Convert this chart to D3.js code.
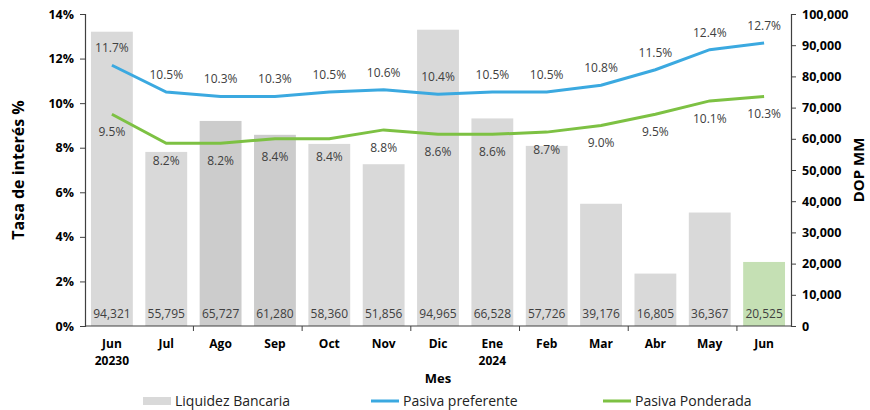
<!DOCTYPE html>
<html>
<head>
<meta charset="utf-8">
<script src="https://cdn.jsdelivr.net/npm/d3@7"></script>
<style>
    body { margin: 0; background: #fff; }
    text { font-family: "Open Sans", "DejaVu Sans", sans-serif; }
</style>
</head>
<body>
<div id="canvas"></div>
<script>
"use strict";

let svgWidth = 870;
let svgHeight = 410;

let margin = { top: 14, right: 79, bottom: 84, left: 85 };

/* ---------------- DATA ---------------- */

let months = ["Jun 2023", "Jul", "Ago", "Sep", "Oct", "Nov", "Dic", "Ene 2024", "Feb", "Mar", "Abr", "May", "Jun"];
let monthLabels = [["Jun", "20230"], ["Jul"], ["Ago"], ["Sep"], ["Oct"], ["Nov"], ["Dic"], ["Ene", "2024"], ["Feb"], ["Mar"], ["Abr"], ["May"], ["Jun"]];

let liquidez = [94321, 55795, 65727, 61280, 58360, 51856, 94965, 66528, 57726, 39176, 16805, 36367, 20525];
let pasivaPreferente = [11.7, 10.5, 10.3, 10.3, 10.5, 10.6, 10.4, 10.5, 10.5, 10.8, 11.5, 12.4, 12.7];
let pasivaPonderada = [9.5, 8.2, 8.2, 8.4, 8.4, 8.8, 8.6, 8.6, 8.7, 9.0, 9.5, 10.1, 10.3];

let leftTicks = [0, 2, 4, 6, 8, 10, 12, 14];
let rightTicks = [0, 10000, 20000, 30000, 40000, 50000, 60000, 70000, 80000, 90000, 100000];

/* ---------------- STYLES ---------------- */

let barColors = ["#d9d9d9", "#d9d9d9", "#cccccc", "#cccccc", "#d9d9d9", "#d9d9d9", "#d9d9d9",
                 "#d9d9d9", "#d9d9d9", "#d9d9d9", "#d9d9d9", "#d9d9d9", "#c5e0b4"];
let blue = "#3ba9e0";
let green = "#7dc143";
let axisColor = "#404040";
let labelColor = "#404040";

let svg = d3.select("#canvas")
    .append("svg")
    .attr("width", svgWidth)
    .attr("height", svgHeight);

/* ---------------- SCALES ---------------- */

let xScale = d3.scaleBand()
    .domain(months)
    .range([margin.left, svgWidth - margin.right])
    .paddingInner(0.23)
    .paddingOuter(0.11);

let yLeft = d3.scaleLinear()
    .domain([0, 14])
    .range([svgHeight - margin.bottom, margin.top]);

let yRight = d3.scaleLinear()
    .domain([0, 100000])
    .range([svgHeight - margin.bottom, margin.top]);

let bw = xScale.bandwidth();
let cx = function (i) { return xScale(months[i]) + bw / 2; };

/* ---------------- BARS ---------------- */

svg.append("g")
    .selectAll("rect")
    .data(liquidez)
    .join("rect")
    .attr("x", function (d, i) { return xScale(months[i]); })
    .attr("y", function (d) { return yRight(d); })
    .attr("width", bw)
    .attr("height", function (d) { return yRight(0) - yRight(d); })
    .attr("fill", function (d, i) { return barColors[i]; });

svg.append("g")
    .selectAll("text")
    .data(liquidez)
    .join("text")
    .attr("x", function (d, i) { return cx(i); })
    .attr("y", yRight(0) - 8)
    .attr("text-anchor", "middle")
    .attr("font-size", "12px")
    .attr("fill", labelColor)
    .text(function (d) { return d3.format(",")(d); });

/* ---------------- LINES ---------------- */

let line = d3.line()
    .x(function (d, i) { return cx(i); })
    .y(function (d) { return yLeft(d); });

svg.append("path")
    .datum(pasivaPonderada)
    .attr("d", line)
    .attr("fill", "none")
    .attr("stroke", green)
    .attr("stroke-width", 3);

svg.append("path")
    .datum(pasivaPreferente)
    .attr("d", line)
    .attr("fill", "none")
    .attr("stroke", blue)
    .attr("stroke-width", 3);

svg.append("g")
    .selectAll("text")
    .data(pasivaPreferente)
    .join("text")
    .attr("x", function (d, i) { return cx(i); })
    .attr("y", function (d) { return yLeft(d) - 13; })
    .attr("text-anchor", "middle")
    .attr("font-size", "12px")
    .attr("fill", labelColor)
    .text(function (d) { return d.toFixed(1) + "%"; });

svg.append("g")
    .selectAll("text")
    .data(pasivaPonderada)
    .join("text")
    .attr("x", function (d, i) { return cx(i); })
    .attr("y", function (d) { return yLeft(d) + 22; })
    .attr("text-anchor", "middle")
    .attr("font-size", "12px")
    .attr("fill", labelColor)
    .text(function (d) { return d.toFixed(1) + "%"; });

/* ---------------- AXES ---------------- */

let leftAxis = svg.append("g")
    .attr("transform", "translate(" + margin.left + ",0)")
    .call(d3.axisLeft(yLeft).tickValues(leftTicks).tickSize(5).tickPadding(6)
        .tickFormat(function (d) { return d + "%"; }));

let rightAxis = svg.append("g")
    .attr("transform", "translate(" + (svgWidth - margin.right) + ",0)")
    .call(d3.axisRight(yRight).tickValues(rightTicks).tickSize(5).tickPadding(6)
        .tickFormat(d3.format(",")));

[leftAxis, rightAxis].forEach(function (ax) {
    ax.select(".domain").attr("stroke", axisColor).attr("stroke-width", 1.2);
    ax.selectAll(".tick line").attr("stroke", axisColor);
    ax.selectAll(".tick text")
        .attr("font-size", "12.5px")
        .attr("font-weight", "bold")
        .attr("fill", "#000");
});

// bottom axis line
let baseY = svgHeight - margin.bottom;
svg.append("line")
    .attr("x1", margin.left)
    .attr("x2", svgWidth - margin.right)
    .attr("y1", baseY)
    .attr("y2", baseY)
    .attr("stroke", axisColor)
    .attr("stroke-width", 1.2);

// tick marks every two categories
let step = xScale.step();
for (let i = 2; i < months.length; i += 2) {
    let tx = xScale(months[i]) - step * xScale.paddingInner() / 2;
    svg.append("line")
        .attr("x1", tx).attr("x2", tx)
        .attr("y1", baseY).attr("y2", baseY + 5)
        .attr("stroke", axisColor);
}

// category labels (one text per line)
let catG = svg.append("g");
monthLabels.forEach(function (lines, i) {
    lines.forEach(function (s, j) {
        catG.append("text")
            .attr("x", cx(i))
            .attr("y", baseY + 22 + j * 16.5)
            .attr("text-anchor", "middle")
            .attr("font-size", "12px")
            .attr("font-weight", "bold")
            .attr("fill", "#000")
            .text(s);
    });
});

/* ---------------- TITLES ---------------- */

svg.append("text")
    .attr("x", (margin.left + svgWidth - margin.right) / 2)
    .attr("y", 383)
    .attr("text-anchor", "middle")
    .attr("font-size", "13px")
    .attr("font-weight", "bold")
    .text("Mes");

svg.append("text")
    .attr("transform", "translate(24," + (margin.top + baseY) / 2 + ") rotate(-90)")
    .attr("text-anchor", "middle")
    .attr("font-size", "16px")
    .attr("font-weight", "bold")
    .text("Tasa de interés %");

svg.append("text")
    .attr("transform", "translate(864," + (margin.top + baseY) / 2 + ") rotate(-90)")
    .attr("text-anchor", "middle")
    .attr("font-size", "15px")
    .attr("font-weight", "bold")
    .text("DOP MM");

/* ---------------- LEGEND ---------------- */

let legend = [
    { name: "Liquidez Bancaria", type: "rect", color: "#d9d9d9", x: 143 },
    { name: "Pasiva preferente", type: "line", color: blue, x: 371 },
    { name: "Pasiva Ponderada", type: "line", color: green, x: 603 }
];

let legY = 401;
legend.forEach(function (d) {
    if (d.type === "rect") {
        svg.append("rect")
            .attr("x", d.x).attr("y", legY - 4)
            .attr("width", 28).attr("height", 8)
            .attr("fill", d.color);
    } else {
        svg.append("line")
            .attr("x1", d.x).attr("x2", d.x + 28)
            .attr("y1", legY).attr("y2", legY)
            .attr("stroke", d.color)
            .attr("stroke-width", 3);
    }
    svg.append("text")
        .attr("x", d.x + 32)
        .attr("y", legY + 5)
        .attr("font-size", "14px")
        .attr("fill", "#222")
        .text(d.name);
});
</script>
</body>
</html>
